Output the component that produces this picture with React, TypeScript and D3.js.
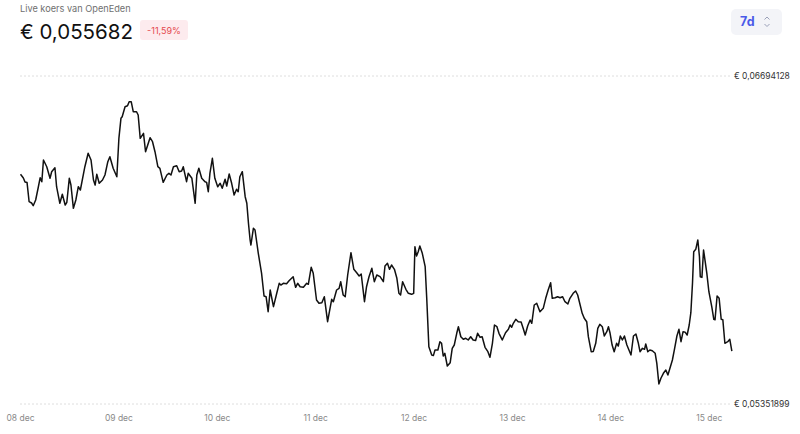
import React from "react";
import * as d3 from "d3";

const title = "Live koers van OpenEden";
const currentPrice = "€ 0,055682";
const changeLabel = "-11,59%";
const rangeLabel = "7d";
const yTickValues = [0.05351899, 0.06694128];
const dayLabels = ["08 dec", "09 dec", "10 dec", "11 dec", "12 dec", "13 dec", "14 dec", "15 dec"];

// hours since 08 dec 00:00
const hours = [
  0, 0.7, 1.1, 1.6, 2.1, 2.7, 3.1, 3.7, 4.3, 4.8, 5.2, 5.6, 6.4, 7.2, 7.6, 8.4, 8.8, 9.6, 10.2, 10.9,
  11.3, 11.9, 12.3, 12.9, 13.5, 14.1, 14.6, 15.7, 16.5, 17.2, 17.8, 18.2, 18.6, 19.2, 20.0, 20.6, 21.3, 21.8, 22.6, 23.5,
  24.0, 24.5, 24.8, 25.5, 26.1, 26.5, 27.0, 27.5, 28.3, 28.7, 29.2, 30.0, 30.5, 31.6, 32.2, 32.8, 33.5, 34.0, 34.8, 35.7,
  36.2, 36.7, 37.3, 38.1, 38.7, 39.3, 39.7, 40.5, 40.9, 41.8, 42.6, 43.0, 43.5, 44.2, 45.0, 45.4, 45.8, 46.2, 46.8, 47.4,
  48.1, 48.7, 49.2, 49.9, 50.3, 50.9, 51.5, 52.1, 52.7, 53.1, 53.5, 54.1, 54.8, 55.2, 55.6, 56.0, 56.2, 56.8, 57.2, 58.0,
  58.8, 59.4, 59.9, 60.4, 60.9, 61.7, 62.5, 63.1, 63.5, 64.1, 64.9, 65.5, 66.5, 67.1, 67.6, 68.2, 69.0, 69.8, 70.2, 70.9,
  71.4, 72.2, 72.8, 73.5, 74.1, 74.9, 75.9, 76.3, 77.1, 77.7, 78.1, 78.7, 79.2, 79.8, 80.6, 81.3, 82.0, 82.6, 83.1, 83.9,
  84.4, 85.0, 85.7, 86.3, 86.9, 87.7, 88.5, 88.9, 89.5, 90.0, 90.5, 91.2, 91.8, 92.3, 92.7, 93.2, 94.0, 94.6, 95.4, 95.9,
  96.2, 96.6, 97.0, 97.4, 98.0, 98.7, 99.1, 99.6, 100.3, 100.7, 101.1, 101.8, 102.3, 102.7, 103.1, 103.5, 104.1, 104.8, 105.3, 105.8,
  106.4, 106.8, 107.4, 108.0, 108.6, 109.2, 109.8, 110.4, 111.0, 111.5, 112.1, 112.6, 113.3, 114.0, 114.5, 115.1, 115.6, 116.2, 116.7, 117.5,
  118.3, 119.0, 119.4, 119.8, 120.2, 120.8, 121.4, 122.1, 122.6, 123.1, 123.7, 124.3, 124.7, 125.3, 125.9, 126.7, 127.5, 128.1, 128.7, 129.3,
  129.7, 130.4, 131.0, 131.6, 132.2, 132.8, 133.5, 134.0, 134.8, 135.4, 135.9, 136.5, 137.0, 137.5, 138.1, 138.5, 139.2, 139.7, 140.3, 140.8,
  141.3, 141.9, 142.4, 143.0, 143.4, 143.8, 144.3, 144.8, 145.4, 145.8, 146.3, 146.8, 147.3, 147.9, 148.4, 148.9, 149.5, 150.1, 150.7, 151.1,
  151.7, 152.2, 152.5, 153.0, 153.5, 154.1, 154.8, 155.2, 155.7, 156.2, 156.8, 157.4, 157.9, 158.4, 159.0, 159.5, 160.1, 160.6, 161.1, 161.6,
  162.1, 162.6, 163.1, 163.5, 163.9, 164.2, 164.7, 165.2, 165.6, 165.8, 166.2, 166.6, 167.4, 167.9, 168.6, 169.1, 169.4, 169.9, 170.4, 170.9,
  171.3, 171.8, 172.5, 173.0, 173.5
];

const prices = [
  0.062918, 0.062767, 0.062603, 0.062580, 0.061797, 0.061744, 0.061633, 0.061867, 0.062358, 0.062779, 0.062616, 0.063503, 0.063229, 0.062755, 0.063025, 0.063188, 0.062411, 0.061732, 0.062100, 0.061662,
  0.061773, 0.062755, 0.062480, 0.061527, 0.061867, 0.062411, 0.062276, 0.063229, 0.063778, 0.063503, 0.062685, 0.062480, 0.062918, 0.062550, 0.062685, 0.062890, 0.063434, 0.063638, 0.063164, 0.062820,
  0.064391, 0.065210, 0.065275, 0.065685, 0.065725, 0.065889, 0.065889, 0.065480, 0.065480, 0.065345, 0.064391, 0.064596, 0.063843, 0.064416, 0.064252, 0.063843, 0.063229, 0.063164, 0.062591, 0.062890,
  0.062959, 0.062890, 0.063229, 0.063270, 0.063025, 0.063053, 0.063229, 0.062616, 0.062959, 0.062755, 0.061732, 0.062890, 0.063164, 0.062755, 0.062616, 0.062590, 0.062206, 0.062959, 0.063573, 0.062755,
  0.062411, 0.062550, 0.062345, 0.062714, 0.062440, 0.062931, 0.062550, 0.062071, 0.062305, 0.062206, 0.062820, 0.063025, 0.062002, 0.061732, 0.060913, 0.060230, 0.060025, 0.060709, 0.060639, 0.059686,
  0.058867, 0.057938, 0.057910, 0.057296, 0.058184, 0.057501, 0.058049, 0.058458, 0.058388, 0.058458, 0.058440, 0.058564, 0.058728, 0.058294, 0.058458, 0.058319, 0.058294, 0.058458, 0.058417, 0.059113,
  0.058867, 0.057775, 0.057640, 0.057664, 0.057910, 0.056887, 0.057803, 0.057705, 0.058184, 0.058253, 0.058524, 0.057979, 0.057910, 0.058798, 0.059710, 0.059031, 0.058892, 0.058757, 0.058839, 0.057705,
  0.058319, 0.058728, 0.059072, 0.058524, 0.058798, 0.058728, 0.058524, 0.059166, 0.059276, 0.059031, 0.059207, 0.059031, 0.058663, 0.058049, 0.057979, 0.058524, 0.058213, 0.058049, 0.058008, 0.058049,
  0.059956, 0.059575, 0.059751, 0.059984, 0.059686, 0.059137, 0.057775, 0.055864, 0.055524, 0.055500, 0.055729, 0.055729, 0.056068, 0.056003, 0.055483, 0.055594, 0.055074, 0.055209, 0.055798, 0.055933,
  0.056412, 0.056682, 0.056273, 0.056167, 0.056207, 0.056138, 0.056273, 0.056138, 0.056120, 0.056412, 0.056248, 0.056273, 0.055839, 0.055659, 0.055430, 0.056003, 0.056752, 0.056682, 0.056412, 0.056138,
  0.056437, 0.056576, 0.056752, 0.056658, 0.056821, 0.056985, 0.056887, 0.056870, 0.056617, 0.056342, 0.056711, 0.056956, 0.056821, 0.057570, 0.057640, 0.057296, 0.057435, 0.057844, 0.058184, 0.058483,
  0.057844, 0.057869, 0.057910, 0.057869, 0.057910, 0.057705, 0.057611, 0.057844, 0.058049, 0.058143, 0.057979, 0.057570, 0.057230, 0.057026, 0.056887, 0.056273, 0.055659, 0.055670, 0.056003, 0.056617,
  0.056780, 0.056682, 0.056302, 0.056478, 0.056682, 0.056412, 0.055933, 0.055659, 0.056003, 0.055892, 0.056302, 0.056138, 0.056302, 0.055933, 0.055729, 0.055524, 0.056302, 0.056383, 0.056003, 0.055659,
  0.055798, 0.055757, 0.055974, 0.055659, 0.055729, 0.055700, 0.055594, 0.055184, 0.054337, 0.054571, 0.054775, 0.054910, 0.054706, 0.054980, 0.055319, 0.055757, 0.056302, 0.056576, 0.056068, 0.056478,
  0.056460, 0.056342, 0.056752, 0.057255, 0.058458, 0.059751, 0.059849, 0.060230, 0.059546, 0.058728, 0.058700, 0.059821, 0.058867, 0.058114, 0.057501, 0.056985, 0.056970, 0.057938, 0.057844, 0.056985,
  0.056970, 0.056003, 0.056068, 0.056167, 0.055682
];

const W = 800;
const H = 434;
const t0 = new Date(2024, 11, 8).getTime();
const HOUR = 3600 * 1000;

export default function App() {
  const x = d3
    .scaleTime()
    .domain([new Date(2024, 11, 8), new Date(2024, 11, 15)])
    .range([20.5, 709.3]);
  const y = d3.scaleLinear().domain([yTickValues[0], yTickValues[1]]).range([404, 76]);

  const data = hours.map((h, i) => ({ t: new Date(t0 + h * HOUR), v: prices[i] }));
  const line = d3
    .line<{ t: Date; v: number }>()
    .x((d) => x(d.t))
    .y((d) => y(d.v));

  const days = d3.timeDay.range(new Date(2024, 11, 8), new Date(2024, 11, 15, 1));
  const fmt = (v: number) => "€ " + v.toFixed(8).replace(".", ",");
  const font = "Inter, 'Noto Sans', sans-serif";

  return (
    <svg width={W} height={H} style={{ position: "absolute", left: 0, top: 0, background: "#fff" }} fontFamily={font}>
      <rect width={W} height={H} fill="#fff" />
      {/* header */}
      <text x={20} y={11.5} fontSize={9.2} fill="#6f6f6f">{title}</text>
      <text x={20} y={38.5} fontSize={20.5} fill="#111" fontWeight={400}>{currentPrice}</text>
      <rect x={140} y={20} width={48} height={20} rx={3} fill="#fdebee" />
      <text x={164} y={33.5} fontSize={9} fill="#e5484d" textAnchor="middle">{changeLabel}</text>

      {/* range selector */}
      <rect x={731} y={9} width={51} height={26} rx={5} fill="#f3f4f8" />
      <text x={740} y={26} fontSize={12.5} fontWeight={700} fill="#4a5ae8">{rangeLabel}</text>
      <path d="M764.5,19.5 L767,17 L769.5,19.5 M764.5,24 L767,26.5 L769.5,24" fill="none" stroke="#9aa0b8" strokeWidth={1} />

      {/* grid lines + y labels */}
      {yTickValues.map((v, i) => (
        <g key={i}>
          <line x1={20} x2={731} y1={y(v)} y2={y(v)} stroke="#d6d6d6" strokeWidth={0.8} strokeDasharray="2,2" />
          <text x={734} y={y(v) + 3} fontSize={8.5} fill="#333">{fmt(v)}</text>
        </g>
      ))}

      {/* x labels */}
      {days.map((d, i) => (
        <text key={i} x={x(d)} y={421} fontSize={8.5} fill="#8a8a8a" textAnchor="middle">
          {dayLabels[i]}
        </text>
      ))}

      {/* price line */}
      <path d={line(data) || ""} fill="none" stroke="#111" strokeWidth={1.5} strokeLinejoin="round" />
    </svg>
  );
}
